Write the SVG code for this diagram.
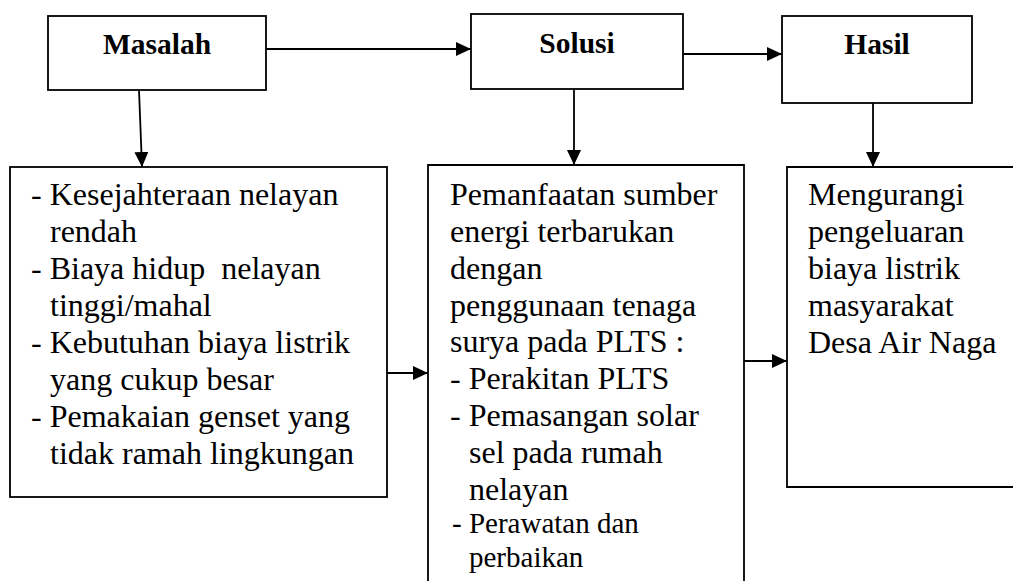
<svg xmlns="http://www.w3.org/2000/svg" width="1013" height="581" viewBox="0 0 1013 581">
<style>
.box{fill:none;stroke:#000;stroke-width:1.8}
.ln{fill:none;stroke:#000;stroke-width:1.8}
text{font-family:'Liberation Serif','Times New Roman',Tinos,'DejaVu Serif',serif;fill:#000;white-space:pre}
.h{font-weight:bold;font-size:29.5px;text-anchor:middle}
.t{font-size:32px}
.s{font-size:29px}
</style>
<defs>
<marker id="ah" markerUnits="userSpaceOnUse" markerWidth="16" markerHeight="14" refX="15" refY="7" orient="auto">
<path d="M0,0 L15,7 L0,14 Z" fill="#000"/>
</marker>
</defs>
<rect width="1013" height="581" fill="#fff"/>
<g id="masalah">
<rect class="box" x="48" y="16" width="218" height="74"/>
<text class="h" x="157" y="54">Masalah</text>
</g>
<g id="solusi">
<rect class="box" x="471" y="14" width="212" height="75"/>
<text class="h" x="577" y="53">Solusi</text>
</g>
<g id="hasil">
<rect class="box" x="782" y="16" width="190" height="87"/>
<text class="h" x="877" y="54">Hasil</text>
</g>
<g id="masalah-detail">
<rect class="box" x="10" y="167" width="377" height="330"/>
<text class="t" x="31" y="205">- Kesejahteraan nelayan</text>
<text class="t" x="50" y="242">rendah</text>
<text class="t" x="31" y="279" xml:space="preserve">- Biaya hidup  nelayan</text>
<text class="t" x="50" y="316">tinggi/mahal</text>
<text class="t" x="31" y="353">- Kebutuhan biaya listrik</text>
<text class="t" x="50" y="390">yang cukup besar</text>
<text class="t" x="31" y="427">- Pemakaian genset yang</text>
<text class="t" x="50" y="464">tidak ramah lingkungan</text>
</g>
<g id="solusi-detail">
<path class="box" d="M428,581 L428,165 L744,165 L744,581"/>
<text class="t" x="450" y="205">Pemanfaatan sumber</text>
<text class="t" x="450" y="242">energi terbarukan</text>
<text class="t" x="450" y="279">dengan</text>
<text class="t" x="450" y="316">penggunaan tenaga</text>
<text class="t" x="450" y="352">surya pada PLTS :</text>
<text class="t" x="450" y="389">- Perakitan PLTS</text>
<text class="t" x="450" y="426">- Pemasangan solar</text>
<text class="t" x="469" y="463">sel pada rumah</text>
<text class="t" x="469" y="500">nelayan</text>
<text class="s" x="452" y="533">- Perawatan dan</text>
<text class="s" x="469" y="567">perbaikan</text>
</g>
<g id="hasil-detail">
<path class="box" d="M1013,167 L787,167 L787,487 L1013,487"/>
<text class="t" x="808" y="205">Mengurangi</text>
<text class="t" x="808" y="242">pengeluaran</text>
<text class="t" x="808" y="279">biaya listrik</text>
<text class="t" x="808" y="316">masyarakat</text>
<text class="t" x="808" y="353">Desa Air Naga</text>
</g>
<g id="connectors">
<line class="ln" x1="266" y1="49" x2="471" y2="49" marker-end="url(#ah)"/>
<line class="ln" x1="683" y1="54" x2="782" y2="54" marker-end="url(#ah)"/>
<line class="ln" x1="139" y1="90" x2="142" y2="167" marker-end="url(#ah)"/>
<line class="ln" x1="574" y1="89" x2="574" y2="165" marker-end="url(#ah)"/>
<line class="ln" x1="873" y1="103" x2="873" y2="167" marker-end="url(#ah)"/>
<line class="ln" x1="387" y1="373" x2="428" y2="373" marker-end="url(#ah)"/>
<line class="ln" x1="744" y1="361" x2="787" y2="361" marker-end="url(#ah)"/>
</g>
</svg>
